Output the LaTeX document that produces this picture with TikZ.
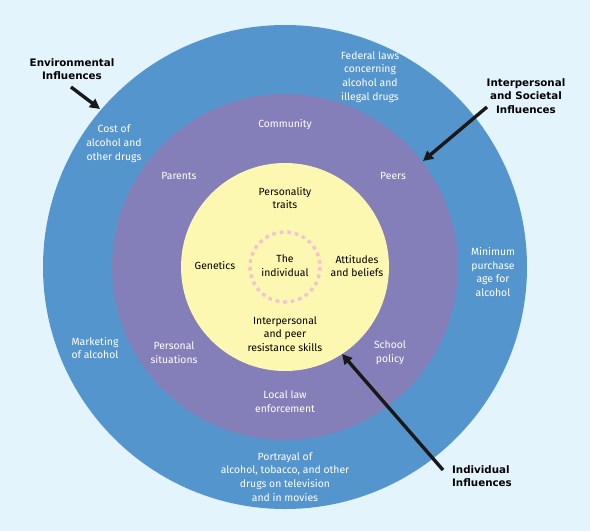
\documentclass[tikz,border=0pt]{standalone}
\usetikzlibrary{arrows.meta}
\usepackage{fontspec}
\setmainfont{Fira Sans}
\newfontfamily\headfont{DejaVu Sans}
\definecolor{skybg}{HTML}{E3F4FC}
\definecolor{ringblue}{HTML}{5595CE}
\definecolor{ringpurple}{HTML}{857FB9}
\definecolor{coreyellow}{HTML}{FDF8B1}
\definecolor{dotpink}{HTML}{F6C2D2}

\begin{document}
\begin{tikzpicture}[x=1pt,y=-1pt]
    \tikzstyle{ring text}=[text=white, align=center, font=\fontsize{10.4}{13.8}\selectfont, inner sep=0pt]
    \tikzstyle{core text}=[ring text, text=black];
    \tikzstyle{influence}=[align=center, font=\headfont\bfseries\fontsize{10.3}{13.6}\selectfont, inner sep=0pt];
    \tikzstyle{pointer}=[-{Triangle[length=10pt,width=10pt]}, line width=3.4pt, black!90];

    % Background and the three rings
    \fill[skybg] (0,0) rectangle (590,531);
    \useasboundingbox (0,0) rectangle (590,531);
    \coordinate (C) at (285,267);
    \fill[ringblue] (C) circle (242);
    \fill[ringpurple] (C) circle (173);
    \fill[coreyellow] (C) circle (104);
    \draw[dotpink, line width=3.4pt, dash pattern=on 3.6pt off 4pt] (C) circle (35);

    % Outer ring: environmental influences
    \node[ring text] (federal) at (370,77) {Federal laws\\concerning\\alcohol and\\illegal drugs};
    \node[ring text] (cost) at (114,144) {Cost of\\alcohol and\\other drugs};
    \node[ring text] (minimum) at (493,272) {Minimum\\purchase\\age for\\alcohol};
    \node[ring text] (marketing) at (95,348) {Marketing\\of alcohol};
    \node[ring text] (portrayal) at (285,477) {Portrayal of\\alcohol, tobacco, and other\\drugs on television\\and in movies};

    % Middle ring: interpersonal and societal influences
    \node[ring text] (community) at (285,125) {Community};
    \node[ring text] (parents) at (179,176) {Parents};
    \node[ring text] (peers) at (393,176) {Peers};
    \node[ring text] (situations) at (174,353) {Personal\\situations};
    \node[ring text] (school) at (390,353) {School\\policy};
    \node[ring text] (lawenf) at (285,402) {Local law\\enforcement};

    % Core: individual influences
    \node[core text] (traits) at (285,198) {Personality\\traits};
    \node[core text] (genetics) at (215,266) {Genetics};
    \node[core text] (self) at (285,266) {The\\individual};
    \node[core text] (attitudes) at (357,266) {Attitudes\\and beliefs};
    \node[core text] (resist) at (285,334) {Interpersonal\\and peer\\resistance skills};

    % Labels and their arrows
    \node[influence] (env) at (72,69) {Environmental\\Influences};
    \node[influence] (soc) at (526,96) {Interpersonal\\and Societal\\Influences};
    \node[influence, align=left] (ind) at (482,476) {Individual\\Influences};

    \coordinate (env tail) at (71,87);
    \coordinate (env tip) at (100,109);
    \coordinate (soc tail) at (487,107);
    \coordinate (soc tip) at (423,161);
    \coordinate (ind tail) at (443,470);
    \coordinate (ind tip) at (342,354);
    \draw[pointer] (env tail) -- (env tip);
    \draw[pointer] (soc tail) -- (soc tip);
    \draw[pointer] (ind tail) -- (ind tip);
\end{tikzpicture}
\end{document}
